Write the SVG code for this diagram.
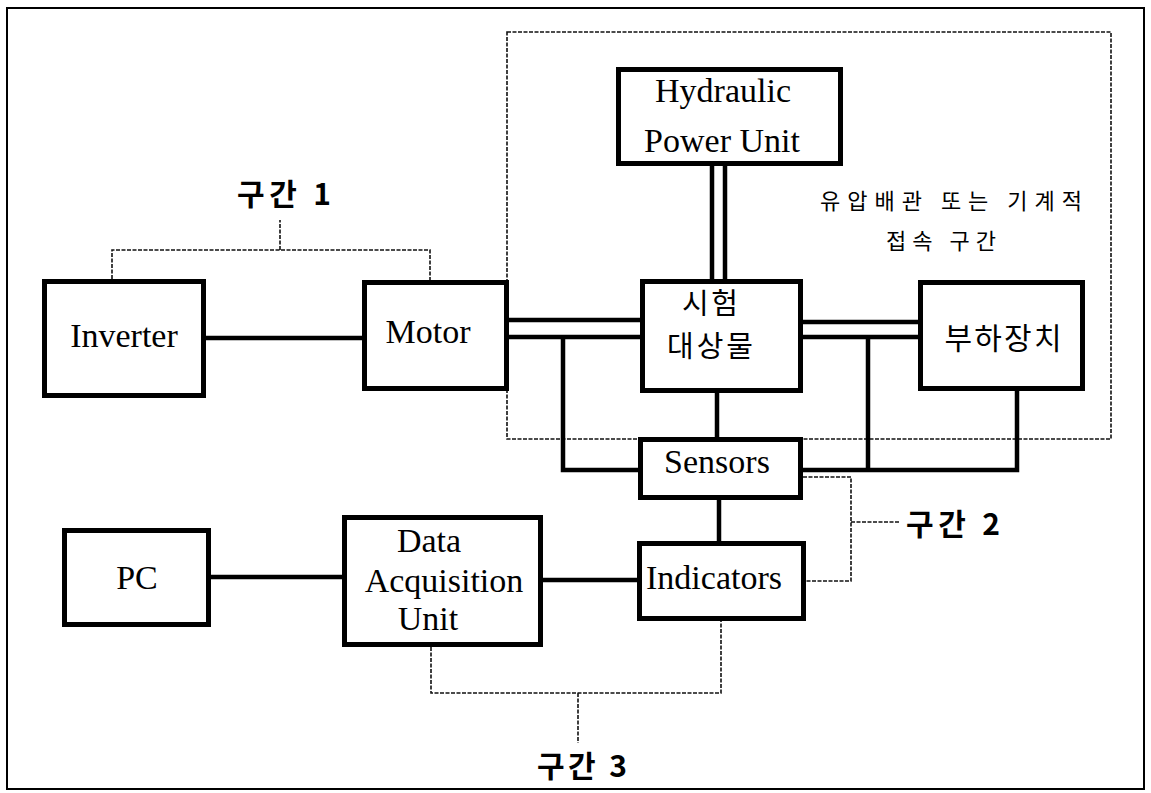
<svg xmlns="http://www.w3.org/2000/svg" width="1151" height="793" viewBox="0 0 1151 793">
<style>
.box{fill:#fff;stroke:#000;stroke-width:5}
.ln{fill:none;stroke:#000;stroke-width:4.5}
.dl{fill:none;stroke:#111;stroke-width:1.6;stroke-dasharray:4 1.5}
.t{font-family:"Liberation Serif","Times New Roman",serif;font-size:34px;fill:#000;text-anchor:middle}
.k{font-family:"Noto Sans CJK KR","Noto Sans",sans-serif;font-size:29px;fill:#000;text-anchor:middle}
.kb{font-family:"Noto Sans CJK KR","Noto Sans",sans-serif;font-size:30px;font-weight:bold;fill:#000}
.ks{font-family:"Noto Sans CJK KR","Noto Sans",sans-serif;font-size:22px;fill:#000;text-anchor:middle}
</style>
<rect width="1151" height="793" fill="#fff"/>
<rect x="7" y="8" width="1137" height="781" fill="none" stroke="#000" stroke-width="2"/>
<g id="connectors">
<rect x="507" y="32" width="604" height="407" class="dl"/>
<path class="dl" d="M112 279V250H430V280M280 250V220"/>
<path class="dl" d="M803 477H851V581H806M851 522H899"/>
<path class="dl" d="M431 647V693H721V621M578 693V743"/>
<path class="ln" d="M206 338H362"/>
<path class="ln" d="M509 320H640M509 337H640"/>
<path class="ln" d="M803 322H918M803 337H918"/>
<path class="ln" d="M712 166V279M725 166V279"/>
<path class="ln" d="M563 337V470H638"/>
<path class="ln" d="M868 337V470M803 470H1017V391"/>
<path class="ln" d="M717 393V437"/>
<path class="ln" d="M719 500V541"/>
<path class="ln" d="M211 577H342"/>
<path class="ln" d="M543 580H637"/>
</g>
<g id="inverter"><rect class="box" x="44.5" y="281.5" width="159" height="114"/><text class="t" x="124" y="347">Inverter</text></g>
<g id="motor"><rect class="box" x="364.5" y="282.5" width="142" height="106"/><text class="t" x="428" y="343">Motor</text></g>
<g id="hpu"><rect class="box" x="618.5" y="69.5" width="222" height="94"/><text class="t" x="723" y="102">Hydraulic</text><text class="t" x="722" y="152">Power Unit</text></g>
<g id="dut"><rect class="box" x="642.5" y="281.5" width="158" height="109"/><text class="k" x="710" y="314" textLength="56" lengthAdjust="spacing">시험</text><text class="k" x="710" y="357" textLength="86" lengthAdjust="spacing">대상물</text></g>
<g id="load"><rect class="box" x="920.5" y="282.5" width="162" height="106"/><text class="k" x="1003" y="349" textLength="117" lengthAdjust="spacing" style="font-size:30px">부하장치</text></g>
<g id="sensors"><rect class="box" x="640.5" y="439.5" width="160" height="58"/><text class="t" x="717" y="473">Sensors</text></g>
<g id="indicators"><rect class="box" x="639.5" y="543.5" width="164" height="75"/><text class="t" x="714" y="589">Indicators</text></g>
<g id="dau"><rect class="box" x="344.5" y="517.5" width="196" height="127"/><text class="t" x="429" y="552">Data</text><text class="t" x="444" y="592">Acquisition</text><text class="t" x="428" y="630">Unit</text></g>
<g id="pc"><rect class="box" x="64.5" y="530.5" width="144" height="94"/><text class="t" x="137" y="589">PC</text></g>
<g id="labels">
<text class="kb" x="237" y="205" textLength="94" lengthAdjust="spacing">구간 1</text>
<text class="kb" x="906" y="535" textLength="94" lengthAdjust="spacing">구간 2</text>
<text class="kb" x="537" y="777" textLength="90" lengthAdjust="spacing">구간 3</text>
<text class="ks" x="951" y="209" textLength="262" lengthAdjust="spacing">유압배관 또는 기계적</text>
<text class="ks" x="941" y="249" textLength="110" lengthAdjust="spacing">접속 구간</text>
</g>
</svg>
